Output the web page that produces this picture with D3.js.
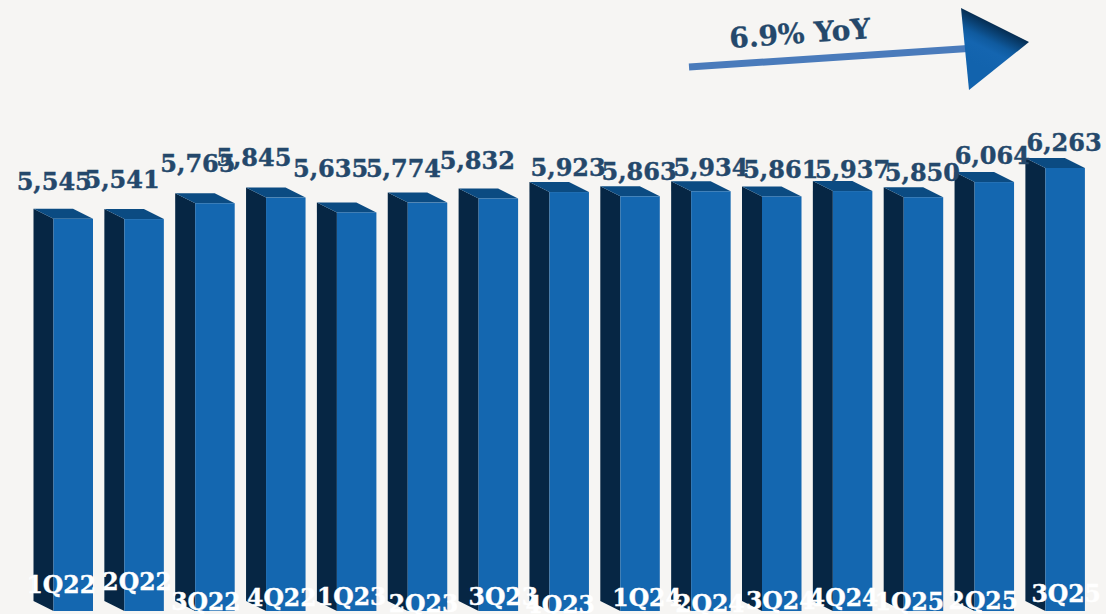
<!DOCTYPE html>
<html><head><meta charset="utf-8">
<script src="https://cdn.jsdelivr.net/npm/d3@7"></script>
<style>
html,body{margin:0;padding:0;background:#f6f5f3;overflow:hidden}
svg{display:block}
text{font-family:"DejaVu Serif",serif;font-weight:700}
</style></head><body><div id="c"></div>
<script>
const categories=["1Q22","2Q22","3Q22","4Q22","1Q23","2Q23","3Q23","4Q23","1Q24","2Q24","3Q24","4Q24","1Q25","2Q25","3Q25"];
const revenue=[5545,5541,5765,5845,5635,5774,5832,5923,5863,5934,5861,5937,5850,6064,6263];
const annotation="6.9% YoY";
// hand-placed label nudges seen in the reference (px)
const valueNudgeX=[-19,-22,-17,-32,-26,-24,-21,-1,-1,0,-1,0,-1,-2,-1];
const valueNudgeY=[-29,-31,-31,-32,-35,-26,-29,-16,-16,-15,-18,-13,-16,-18,-17];
const tickNudgeX=[-12,-7,-9,-4,-5,-4,5,-9,7,-1,-1,-9,-14,-11,1];
const tickBaseline=[593,590,610,606,605,612,605,613,606,612,609,606,610,609,602];

const W=1106,H=614;
const svg=d3.select("#c").append("svg").attr("width",W).attr("height",H);
const defs=svg.append("defs");
const g=defs.append("linearGradient").attr("id","head").attr("gradientUnits","userSpaceOnUse")
 .attr("x1",1000).attr("y1",26).attr("x2",980).attr("y2",66);
[[0,"#052a4c"],[0.4,"#0f5a9e"],[0.6,"#1465b0"],[1,"#1263ad"]].forEach(d=>g.append("stop").attr("offset",d[0]).attr("stop-color",d[1]));

const x=d3.scaleBand().domain(categories).range([53.5,1084.9]).paddingInner(0.4425).paddingOuter(0);
const y=d3.scaleLinear().domain([0,6263]).range([611,168]);
const dx=-20,dy=-10;

const bars=svg.append("g").selectAll("g").data(categories).join("g");
// side face
bars.append("path").attr("fill","#062644")
 .attr("d",(c,i)=>{const l=x(c),t=y(revenue[i]),b=y(0);return `M${l},${t}L${l+dx},${t+dy}L${l+dx},${b+dy}L${l},${b}Z`;});
// top face
bars.append("path").attr("fill","#0b4b82")
 .attr("d",(c,i)=>{const l=x(c),r=l+x.bandwidth(),t=y(revenue[i]);return `M${l},${t}L${l+dx},${t+dy}L${r+dx},${t+dy}L${r},${t}Z`;});
// front face
bars.append("rect").attr("fill","#1467b0")
 .attr("x",c=>x(c)).attr("width",x.bandwidth())
 .attr("y",(c,i)=>y(revenue[i])).attr("height",(c,i)=>y(0)-y(revenue[i]));

// value labels
svg.append("g").selectAll("text").data(revenue).join("text")
 .attr("text-anchor","middle").attr("fill","#24486b").attr("stroke","#24486b").attr("stroke-width",0.4).attr("font-size",24)
 .attr("x",(v,i)=>x(categories[i])+x.bandwidth()/2+valueNudgeX[i])
 .attr("y",(v,i)=>y(v)+valueNudgeY[i])
 .text(d3.format(","));

// category axis
const axis=svg.append("g").call(d3.axisBottom(x).tickSize(0));
axis.select(".domain").remove();
axis.selectAll(".tick").attr("transform",null);
axis.selectAll(".tick text")
 .attr("fill","#fff").attr("stroke","#fff").attr("stroke-width",0.4).attr("font-size",23.5).attr("text-anchor","middle").attr("dy",null)
 .attr("x",(c,i)=>x(c)+x.bandwidth()/2+tickNudgeX[i])
 .attr("y",(c,i)=>tickBaseline[i]);
axis.attr("font-family",null).attr("font-size",null);

// trend arrow
svg.append("line").attr("x1",689).attr("y1",67).attr("x2",968).attr("y2",48.5)
 .attr("stroke","#4a7bbb").attr("stroke-width",7);
svg.append("path").attr("d","M961,8L1029,42L969,90Z").attr("fill","url(#head)");
svg.append("text").attr("transform","translate(730,48) rotate(-4)")
 .attr("fill","#24486b").attr("stroke","#24486b").attr("stroke-width",0.3).attr("font-size",28).text(annotation);
</script></body></html>
